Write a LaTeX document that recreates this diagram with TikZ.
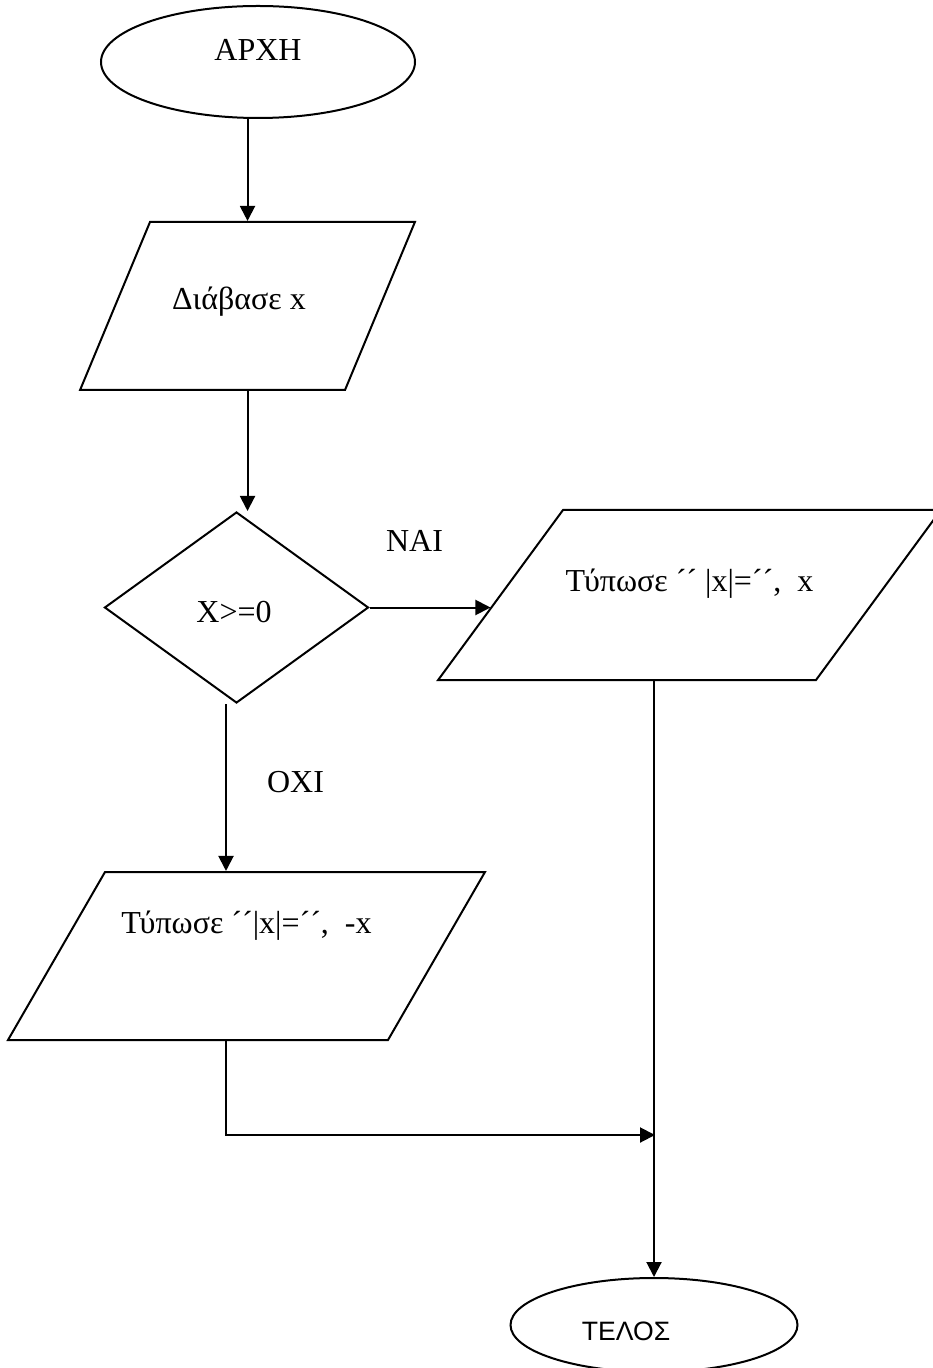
\documentclass[tikz,border=0pt]{standalone}
\usepackage{fontspec}
\setmainfont{Liberation Serif}
\newfontfamily\sansgr{Liberation Sans}
\usetikzlibrary{shapes.geometric,arrows.meta,calc}

\begin{document}
\begin{tikzpicture}[x=0.5pt,y=-0.5pt,line width=1pt,
    font=\fontsize{16}{19}\selectfont,>={Triangle[length=7.5pt,width=7.5pt]}]

    \useasboundingbox (0,0) rectangle (932,1368);

    \tikzset{termstyle/.style={draw,shape=ellipse,inner sep=0pt},
             iostyle/.style={draw,shape=trapezium,inner sep=0pt,text depth=0pt},
             decstyle/.style={draw,shape=diamond,inner sep=0pt}}

    \node[termstyle,minimum width=157pt,minimum height=56pt,
          label={[yshift=6.25pt]center:ΑΡΧΗ}] (start) at (258,62) {};
    \node[iostyle,text height=84pt,text width=97.5pt,
          trapezium left angle=67.4,trapezium right angle=112.6,
          label={[xshift=-4.25pt,yshift=2pt]center:Διάβασε x}] (read) at (247.5,306) {};
    \node[decstyle,aspect=1.38,minimum width=132pt,minimum height=95.5pt,
          label={[xshift=-1.25pt,yshift=-2.25pt]center:X>=0}] (dec) at (236.5,607.5) {};
    \node[iostyle,text height=85pt,text width=126.5pt,
          trapezium left angle=53.7,trapezium right angle=126.3,
          label={[yshift=5.5pt]center:Τύπωσε ´´ |x|=´´,~~x}] (print1) at (689.5,595) {};
    \node[iostyle,text height=84pt,text width=141.5pt,
          trapezium left angle=60,trapezium right angle=120,
          label={[yshift=15pt]center:Τύπωσε ´´|x|=´´,~~-x}] (print2) at (246.5,956) {};
    \node[termstyle,minimum width=143.5pt,minimum height=47pt,
          label={[xshift=-14pt,yshift=-3.25pt,font=\sansgr\fontsize{13.3}{16}\selectfont]center:ΤΕΛΟΣ}] (end) at (654,1325) {};

    \node (yes) at (414.5,541) {ΝΑΙ};
    \node (no) at (295.5,782) {ΟΧΙ};

    \coordinate (p1in) at ($(print1.bottom left corner)!0.43!(print1.top left corner)$);
    \coordinate (nofrom) at ([xshift=-5.25pt]dec.south);
    \coordinate (p2out) at ([xshift=-10.25pt]print2.south);
    \coordinate (merge) at (655,1135);

    \begin{scope}[every path/.style={->}]
        \draw (read.north |- start.south) -- (read.north);
        \draw (read.south) -- (read.south |- dec.north);
        \draw (dec.east) -- (dec.east -| p1in);
        \draw (nofrom) -- (nofrom |- print2.north);
        \draw (p2out) |- (merge);
        \draw (print1.south -| end.north) -- (end.north);
    \end{scope}
\end{tikzpicture}
\end{document}
